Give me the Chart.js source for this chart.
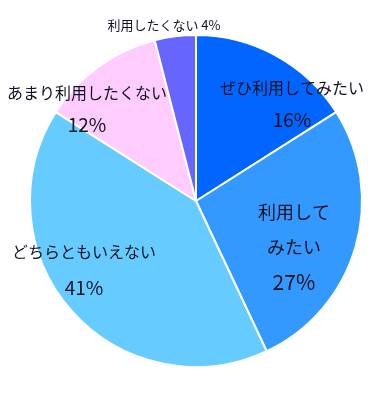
<!DOCTYPE html>
<html>
<head>
<meta charset="utf-8">
<script src="https://cdn.jsdelivr.net/npm/chart.js@4"></script>
<style>
  html, body { margin: 0; padding: 0; background: #fff; }
  #wrap { width: 391px; height: 400px; }
</style>
</head>
<body>
<div id="wrap"><canvas id="myChart"></canvas></div>
<script>
const labels = [
    'ぜひ利用してみたい',
    '利用してみたい',
    'どちらともいえない',
    'あまり利用したくない',
    '利用したくない',
];
const values = [16, 27, 41, 12, 4];
const colors = ['#0066ff', '#3399ff', '#66ccff', '#ffccff', '#6666ff'];

// how each label is broken into lines (last line = percentage)
const labelLines = [
    ['ぜひ利用してみたい', '16%'],
    ['利用して', 'みたい', '27%'],
    ['どちらともいえない', '41%'],
    ['あまり利用したくない', '12%'],
    ['利用したくない 4%'],
];
// label placement relative to pie centre, in units of radius, plus line gap / font sizes
const labelStyle = [
    { dx: 0.578, dy: -0.681, gap: 32, size: 16, pctSize: 19 },
    { dx: 0.590, dy: 0.066, gap: 35, size: 18, pctSize: 21 },
    { dx: -0.675, dy: 0.307, gap: 36, size: 16, pctSize: 19 },
    { dx: -0.657, dy: -0.651, gap: 32, size: 16, pctSize: 19 },
    { dx: -0.193, dy: -1.06, gap: 0, size: 13, pctSize: 13 },
];

const sliceLabels = {
    id: 'sliceLabels',
    afterDatasetsDraw(chart) {
        const ctx = chart.ctx;
        const arcs = chart.getDatasetMeta(0).data;
        ctx.save();
        ctx.fillStyle = '#111122';
        ctx.textAlign = 'center';
        ctx.textBaseline = 'middle';
        arcs.forEach((arc, i) => {
            const st = labelStyle[i];
            const x = arc.x + st.dx * arc.outerRadius;
            let y = arc.y + st.dy * arc.outerRadius;
            const lines = labelLines[i];
            lines.forEach((line, j) => {
                const isPct = j === lines.length - 1 && lines.length > 1;
                ctx.font = (isPct ? st.pctSize : st.size) + 'px "Noto Sans CJK JP", sans-serif';
                ctx.fillText(line, x, y + j * st.gap);
            });
        });
        ctx.restore();
    }
};

const data = {
    labels: labels,
    datasets: [{
        data: values,
        backgroundColor: colors,
        borderColor: '#ffffff',
        borderWidth: 2,
    }]
};

const config = {
    type: 'pie',
    data: data,
    options: {
        responsive: true,
        maintainAspectRatio: false,
        animation: false,
        radius: 166,
        layout: { padding: { left: 1, right: 0, top: 2, bottom: 0 } },
        plugins: {
            legend: { display: false },
            tooltip: { enabled: false },
        }
    },
    plugins: [sliceLabels]
};
const myChart = new Chart(
    document.getElementById('myChart'),
    config
);
</script>
</body>
</html>
